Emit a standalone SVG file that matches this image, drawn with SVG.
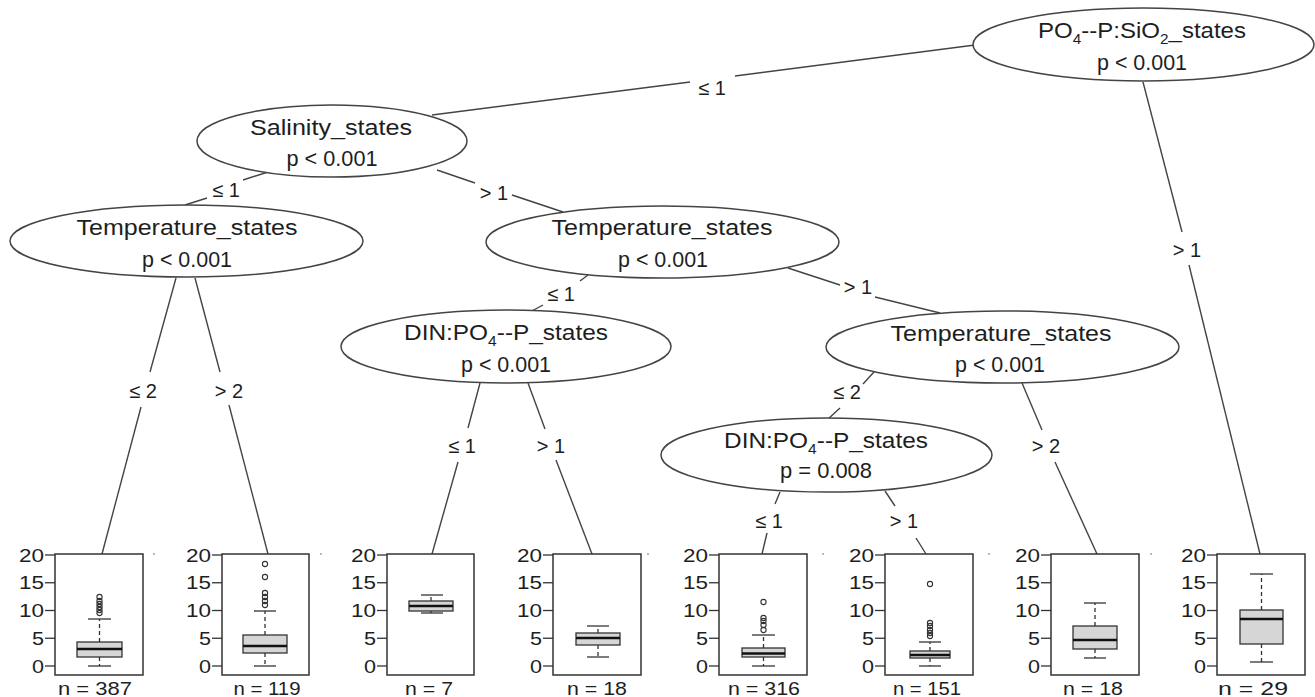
<svg xmlns="http://www.w3.org/2000/svg" xmlns:xlink="http://www.w3.org/1999/xlink" width="1315" height="697" viewBox="0 0 1315 697">
<style>
text{font-family:"Liberation Sans",Arial,sans-serif;fill:#1e1e1e}
.node ellipse{fill:#fff;stroke:#444;stroke-width:1.5}
.nt{font-size:22px;text-anchor:middle}
.el{font-size:20px;text-anchor:middle}
.conn line{stroke:#444;stroke-width:1.4}
.frame{fill:#fff;stroke:#333;stroke-width:1.5}
.tick{stroke:#333;stroke-width:1.3}
.tl{font-size:18px;text-anchor:end}
.nl{font-size:19px;text-anchor:middle}
.box{fill:#d6d6d6;stroke:#333;stroke-width:1.3}
.med{stroke:#111;stroke-width:2.6}
.wh{stroke:#333;stroke-width:1.3;stroke-dasharray:4 3}
.cap{stroke:#333;stroke-width:1.3}
.out{fill:none;stroke:#333;stroke-width:1.1}
.sub{font-size:14px}
</style>
<defs>
<g id="yaxis">
<line class="tick" x1="-10" y1="555" x2="0" y2="555"/>
<line class="tick" x1="-10" y1="582.75" x2="0" y2="582.75"/>
<line class="tick" x1="-10" y1="610.5" x2="0" y2="610.5"/>
<line class="tick" x1="-10" y1="638.25" x2="0" y2="638.25"/>
<line class="tick" x1="-10" y1="666" x2="0" y2="666"/>
<text class="tl" x="-11" y="561.5" textLength="25" lengthAdjust="spacingAndGlyphs">20</text>
<text class="tl" x="-11" y="589.25" textLength="25" lengthAdjust="spacingAndGlyphs">15</text>
<text class="tl" x="-11" y="617" textLength="25" lengthAdjust="spacingAndGlyphs">10</text>
<text class="tl" x="-11" y="644.75" textLength="12" lengthAdjust="spacingAndGlyphs">5</text>
<text class="tl" x="-11" y="672.5" textLength="12" lengthAdjust="spacingAndGlyphs">0</text>
</g>
</defs>
<rect width="1315" height="697" fill="#fff"/>

<g id="connectors" class="conn">
<line x1="975" y1="45" x2="735" y2="76"/>
<line x1="690" y1="82" x2="432" y2="115"/>
<line x1="1143" y1="82" x2="1182" y2="232"/>
<line x1="1189" y1="265" x2="1260" y2="554"/>
<line x1="268" y1="172" x2="243" y2="180"/>
<line x1="207" y1="198" x2="185" y2="205"/>
<line x1="437" y1="170" x2="475" y2="183"/>
<line x1="512" y1="195" x2="563" y2="212"/>
<line x1="176" y1="278" x2="150" y2="372"/>
<line x1="141" y1="407" x2="102" y2="554"/>
<line x1="195" y1="278" x2="220" y2="372"/>
<line x1="229" y1="405" x2="268" y2="554"/>
<line x1="588" y1="275" x2="580" y2="281"/>
<line x1="543" y1="305" x2="530" y2="312"/>
<line x1="788" y1="268" x2="840" y2="285"/>
<line x1="875" y1="297" x2="940" y2="313"/>
<line x1="480" y1="383" x2="468" y2="428"/>
<line x1="458" y1="462" x2="432" y2="554"/>
<line x1="528" y1="383" x2="545" y2="429"/>
<line x1="556" y1="460" x2="592" y2="554"/>
<line x1="874" y1="372" x2="863" y2="384"/>
<line x1="840" y1="408" x2="827" y2="420"/>
<line x1="1022" y1="383" x2="1042" y2="430"/>
<line x1="1055" y1="462" x2="1097" y2="554"/>
<line x1="780" y1="492" x2="775" y2="504"/>
<line x1="767" y1="533" x2="762" y2="554"/>
<line x1="885" y1="491" x2="895" y2="506"/>
<line x1="916" y1="538" x2="926" y2="554"/>
</g>

<g id="edge-labels">
<text class="el" x="712" y="95">≤ 1</text>
<text class="el" x="1187" y="257">&gt; 1</text>
<text class="el" x="226" y="197">≤ 1</text>
<text class="el" x="494" y="200">&gt; 1</text>
<text class="el" x="143" y="398">≤ 2</text>
<text class="el" x="229" y="398">&gt; 2</text>
<text class="el" x="561" y="301">≤ 1</text>
<text class="el" x="858" y="294">&gt; 1</text>
<text class="el" x="462" y="453">≤ 1</text>
<text class="el" x="551" y="453">&gt; 1</text>
<text class="el" x="847" y="399">≤ 2</text>
<text class="el" x="1046" y="453">&gt; 2</text>
<text class="el" x="769" y="528">≤ 1</text>
<text class="el" x="904" y="528">&gt; 1</text>
</g>

<g id="node1" class="node">
<ellipse cx="1143.5" cy="44.5" rx="170.5" ry="36.5"/>
<text class="nt" x="1142" y="38" textLength="208" lengthAdjust="spacingAndGlyphs">PO<tspan class="sub" dy="6">4</tspan><tspan dy="-6">--P:SiO</tspan><tspan class="sub" dy="6">2</tspan><tspan dy="-6">_states</tspan></text>
<text class="nt" x="1142" y="70" textLength="90" lengthAdjust="spacingAndGlyphs">p &lt; 0.001</text>
</g>

<g id="node2" class="node">
<ellipse cx="332" cy="141" rx="135" ry="36"/>
<text class="nt" x="331" y="135" textLength="162" lengthAdjust="spacingAndGlyphs">Salinity_states</text>
<text class="nt" x="332" y="166" textLength="91" lengthAdjust="spacingAndGlyphs">p &lt; 0.001</text>
</g>

<g id="node3" class="node">
<ellipse cx="186.5" cy="241" rx="176.5" ry="36"/>
<text class="nt" x="187" y="235" textLength="221" lengthAdjust="spacingAndGlyphs">Temperature_states</text>
<text class="nt" x="187" y="267" textLength="90" lengthAdjust="spacingAndGlyphs">p &lt; 0.001</text>
</g>

<g id="node4" class="node">
<ellipse cx="662.5" cy="242" rx="176.5" ry="36"/>
<text class="nt" x="662" y="235" textLength="221" lengthAdjust="spacingAndGlyphs">Temperature_states</text>
<text class="nt" x="663" y="267" textLength="90" lengthAdjust="spacingAndGlyphs">p &lt; 0.001</text>
</g>

<g id="node5" class="node">
<ellipse cx="506" cy="346.5" rx="165" ry="36.5"/>
<text class="nt" x="506" y="340" textLength="204" lengthAdjust="spacingAndGlyphs">DIN:PO<tspan class="sub" dy="6">4</tspan><tspan dy="-6">--P_states</tspan></text>
<text class="nt" x="506" y="372" textLength="90" lengthAdjust="spacingAndGlyphs">p &lt; 0.001</text>
</g>

<g id="node6" class="node">
<ellipse cx="1002.5" cy="347" rx="176.5" ry="36"/>
<text class="nt" x="1001" y="341" textLength="221" lengthAdjust="spacingAndGlyphs">Temperature_states</text>
<text class="nt" x="1000" y="372" textLength="90" lengthAdjust="spacingAndGlyphs">p &lt; 0.001</text>
</g>

<g id="node7" class="node">
<ellipse cx="826.5" cy="455" rx="165.5" ry="37"/>
<text class="nt" x="826" y="448" textLength="204" lengthAdjust="spacingAndGlyphs">DIN:PO<tspan class="sub" dy="6">4</tspan><tspan dy="-6">--P_states</tspan></text>
<text class="nt" x="826" y="478" textLength="92" lengthAdjust="spacingAndGlyphs">p = 0.008</text>
</g>

<g id="leaf1">
<rect class="frame" x="55" y="554" width="88" height="121"/>
<use href="#yaxis" xlink:href="#yaxis" x="55"/>
<line class="wh" x1="99.5" y1="642" x2="99.5" y2="619"/>
<line class="wh" x1="99.5" y1="657" x2="99.5" y2="666"/>
<line class="cap" x1="88" y1="619" x2="111" y2="619"/>
<line class="cap" x1="88" y1="666" x2="111" y2="666"/>
<rect class="box" x="77" y="642" width="45" height="15"/>
<line class="med" x1="77" y1="649" x2="122" y2="649"/>
<circle class="out" cx="99.5" cy="597" r="2.6"/><circle class="out" cx="99.5" cy="601" r="2.6"/><circle class="out" cx="99.5" cy="604" r="2.6"/><circle class="out" cx="99.5" cy="607" r="2.6"/><circle class="out" cx="99.5" cy="610" r="2.6"/><circle class="out" cx="99.5" cy="613" r="2.6"/>
<text class="nl" x="95" y="695" textLength="74" lengthAdjust="spacingAndGlyphs">n = 387</text>
</g>

<g id="leaf2">
<rect class="frame" x="222" y="554" width="87" height="121"/>
<use href="#yaxis" xlink:href="#yaxis" x="222"/>
<line class="wh" x1="265" y1="635" x2="265" y2="611"/>
<line class="wh" x1="265" y1="653" x2="265" y2="666"/>
<line class="cap" x1="254" y1="611" x2="276" y2="611"/>
<line class="cap" x1="254" y1="666" x2="276" y2="666"/>
<rect class="box" x="243" y="635" width="44" height="18"/>
<line class="med" x1="243" y1="646" x2="287" y2="646"/>
<circle class="out" cx="265" cy="564" r="2.6"/><circle class="out" cx="265" cy="577" r="2.6"/><circle class="out" cx="265" cy="593" r="2.6"/><circle class="out" cx="265" cy="597" r="2.6"/><circle class="out" cx="265" cy="601" r="2.6"/><circle class="out" cx="265" cy="605" r="2.6"/>
<text class="nl" x="267" y="695" textLength="67" lengthAdjust="spacingAndGlyphs">n = 119</text>
</g>

<g id="leaf3">
<rect class="frame" x="387" y="554" width="87" height="121"/>
<use href="#yaxis" xlink:href="#yaxis" x="387"/>
<line class="wh" x1="431" y1="601" x2="431" y2="595"/>
<line class="wh" x1="431" y1="611" x2="431" y2="613"/>
<line class="cap" x1="421" y1="595" x2="443" y2="595"/>
<line class="cap" x1="421" y1="613" x2="443" y2="613"/>
<rect class="box" x="409" y="601" width="44" height="10"/>
<line class="med" x1="409" y1="606" x2="453" y2="606"/>
<text class="nl" x="429" y="695" textLength="48" lengthAdjust="spacingAndGlyphs">n = 7</text>
</g>

<g id="leaf4">
<rect class="frame" x="553" y="554" width="88" height="121"/>
<use href="#yaxis" xlink:href="#yaxis" x="553"/>
<line class="wh" x1="598" y1="633" x2="598" y2="626"/>
<line class="wh" x1="598" y1="645" x2="598" y2="657"/>
<line class="cap" x1="587" y1="626" x2="609" y2="626"/>
<line class="cap" x1="587" y1="657" x2="609" y2="657"/>
<rect class="box" x="576" y="633" width="44" height="12"/>
<line class="med" x1="576" y1="638" x2="620" y2="638"/>
<text class="nl" x="597" y="695" textLength="60" lengthAdjust="spacingAndGlyphs">n = 18</text>
</g>

<g id="leaf5">
<rect class="frame" x="719" y="554" width="88" height="121"/>
<use href="#yaxis" xlink:href="#yaxis" x="719"/>
<line class="wh" x1="763.5" y1="648" x2="763.5" y2="635"/>
<line class="wh" x1="763.5" y1="657" x2="763.5" y2="666"/>
<line class="cap" x1="752" y1="635" x2="775" y2="635"/>
<line class="cap" x1="752" y1="666" x2="775" y2="666"/>
<rect class="box" x="742" y="648" width="43" height="9"/>
<line class="med" x1="742" y1="653.5" x2="785" y2="653.5"/>
<circle class="out" cx="763.5" cy="602" r="2.6"/><circle class="out" cx="763.5" cy="618" r="2.6"/><circle class="out" cx="763.5" cy="621" r="2.6"/><circle class="out" cx="763.5" cy="625" r="2.6"/><circle class="out" cx="763.5" cy="630" r="2.6"/>
<text class="nl" x="764" y="695" textLength="72" lengthAdjust="spacingAndGlyphs">n = 316</text>
</g>

<g id="leaf6">
<rect class="frame" x="885" y="554" width="88" height="121"/>
<use href="#yaxis" xlink:href="#yaxis" x="885"/>
<line class="wh" x1="930" y1="651" x2="930" y2="642"/>
<line class="wh" x1="930" y1="658" x2="930" y2="666"/>
<line class="cap" x1="919" y1="642" x2="941" y2="642"/>
<line class="cap" x1="919" y1="666" x2="941" y2="666"/>
<rect class="box" x="910" y="651" width="40" height="7"/>
<line class="med" x1="910" y1="655" x2="950" y2="655"/>
<circle class="out" cx="930" cy="584" r="2.6"/><circle class="out" cx="930" cy="623" r="2.6"/><circle class="out" cx="930" cy="626" r="2.6"/><circle class="out" cx="930" cy="630" r="2.6"/><circle class="out" cx="930" cy="633" r="2.6"/><circle class="out" cx="930" cy="636" r="2.6"/>
<text class="nl" x="927" y="695" textLength="68" lengthAdjust="spacingAndGlyphs">n = 151</text>
</g>

<g id="leaf7">
<rect class="frame" x="1051" y="554" width="88" height="121"/>
<use href="#yaxis" xlink:href="#yaxis" x="1051"/>
<line class="wh" x1="1095" y1="626" x2="1095" y2="603"/>
<line class="wh" x1="1095" y1="649" x2="1095" y2="658"/>
<line class="cap" x1="1084" y1="603" x2="1106" y2="603"/>
<line class="cap" x1="1084" y1="658" x2="1106" y2="658"/>
<rect class="box" x="1073" y="626" width="44" height="23"/>
<line class="med" x1="1073" y1="640" x2="1117" y2="640"/>
<text class="nl" x="1093" y="695" textLength="60" lengthAdjust="spacingAndGlyphs">n = 18</text>
</g>

<g id="leaf8">
<rect class="frame" x="1217" y="554" width="88" height="121"/>
<use href="#yaxis" xlink:href="#yaxis" x="1217"/>
<line class="wh" x1="1261.5" y1="610" x2="1261.5" y2="574"/>
<line class="wh" x1="1261.5" y1="644" x2="1261.5" y2="662"/>
<line class="cap" x1="1250" y1="574" x2="1273" y2="574"/>
<line class="cap" x1="1250" y1="662" x2="1273" y2="662"/>
<rect class="box" x="1240" y="610" width="43" height="34"/>
<line class="med" x1="1240" y1="619" x2="1283" y2="619"/>
<text class="nl" x="1253" y="695" textLength="70" lengthAdjust="spacingAndGlyphs">n = 29</text>
</g>

<g id="specks" fill="#999">
<circle cx="154" cy="554" r="0.9"/><circle cx="321" cy="554" r="0.9"/><circle cx="648" cy="554" r="0.9"/><circle cx="823" cy="554" r="0.9"/><circle cx="989" cy="554" r="0.9"/><circle cx="1151" cy="554" r="0.9"/>
</g>
</svg>
